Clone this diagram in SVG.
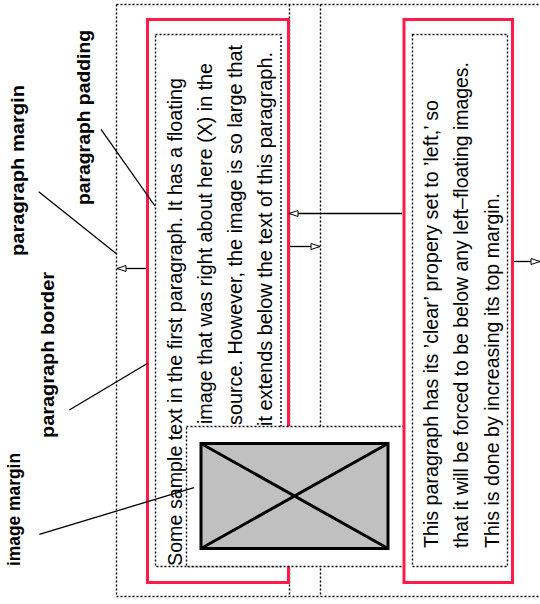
<svg xmlns="http://www.w3.org/2000/svg" width="540" height="604" viewBox="0 0 540 604">
<style>
.dot{fill:none;stroke:#000;stroke-width:1.4;stroke-dasharray:2 2}
.red{fill:none;stroke:#ff1a48;stroke-width:3}
.lbl{font-family:"Liberation Sans",Arial,sans-serif;font-weight:bold;font-size:19px;fill:#000}
.txt{font-family:"Liberation Sans",Arial,sans-serif;font-size:21px;fill:#000}
.ln{stroke:#000;stroke-width:1.3;fill:none}
</style>
<defs>
<marker id="ah" markerUnits="userSpaceOnUse" markerWidth="12" markerHeight="8" refX="10" refY="4" orient="auto">
<path d="M1,1 L10,4 L1,7 Z" fill="#fff" stroke="#000" stroke-width="1"/>
</marker>
</defs>
<rect width="540" height="604" fill="#fff"/>
<g id="margins">
<path class="dot" d="M116.5,4.5 H540 M116.5,596.5 H540 M116.5,4.5 V596.5 M289.5,4.5 V596.5 M320.5,4.5 V596.5"/>
</g>
<g id="paragraph1">
<rect class="red" x="147.5" y="19.5" width="141" height="563"/>
<rect class="dot" x="155.5" y="34.5" width="125.5" height="532"/>
<text class="txt" transform="translate(182,566) rotate(-90)" textLength="488" lengthAdjust="spacingAndGlyphs">Some sample text in the first paragraph. It has a floating</text>
<text class="txt" transform="translate(212,424) rotate(-90)" textLength="361" lengthAdjust="spacingAndGlyphs">image that was right about here (X) in the</text>
<text class="txt" transform="translate(242,425) rotate(-90)" textLength="380" lengthAdjust="spacingAndGlyphs">source. However, the image is so large that</text>
<text class="txt" transform="translate(272,426) rotate(-90)" textLength="374" lengthAdjust="spacingAndGlyphs">it extends below the text of this paragraph.</text>
</g>
<g id="image">
<rect x="186.5" y="426.5" width="217.5" height="140" fill="#fff" stroke="#000" stroke-width="1.4" stroke-dasharray="2 2"/>
<rect x="201" y="443.5" width="187" height="105" fill="#c0c0c0" stroke="#000" stroke-width="3"/>
<path d="M201,443.5 L388,548.5 M201,548.5 L388,443.5" stroke="#000" stroke-width="3" fill="none"/>
</g>
<g id="paragraph2">
<rect class="red" x="404" y="19.5" width="108.5" height="563"/>
<rect class="dot" x="412.5" y="34.5" width="95" height="532"/>
<text class="txt" transform="translate(438,548) rotate(-90)" textLength="448" lengthAdjust="spacingAndGlyphs">This paragraph has its ’clear’ propery set to ’left,’ so</text>
<text class="txt" transform="translate(468,548) rotate(-90)" textLength="486" lengthAdjust="spacingAndGlyphs">that it will be forced to be below any left–floating images.</text>
<text class="txt" transform="translate(499,548) rotate(-90)" textLength="355" lengthAdjust="spacingAndGlyphs">This is done by increasing its top margin.</text>
</g>
<g id="labels">
<text class="lbl" transform="translate(24,256) rotate(-90)" textLength="171" lengthAdjust="spacingAndGlyphs">paragraph margin</text>
<text class="lbl" transform="translate(90,205) rotate(-90)" textLength="175" lengthAdjust="spacingAndGlyphs">paragraph padding</text>
<text class="lbl" transform="translate(54,438) rotate(-90)" textLength="166" lengthAdjust="spacingAndGlyphs">paragraph border</text>
<text class="lbl" transform="translate(20,566) rotate(-90)" textLength="113" lengthAdjust="spacingAndGlyphs">image margin</text>
</g>
<g id="connectors">
<line class="ln" x1="38.7" y1="191.7" x2="116.7" y2="254"/>
<line class="ln" x1="101" y1="129.3" x2="155" y2="206"/>
<line class="ln" x1="69.3" y1="410" x2="147.7" y2="363.3"/>
<line class="ln" x1="39.3" y1="534.3" x2="194" y2="487.7"/>
<line class="ln" x1="146" y1="268.5" x2="117" y2="268.5" marker-end="url(#ah)"/>
<line class="ln" x1="402" y1="213.5" x2="289" y2="213.5" marker-end="url(#ah)"/>
<line class="ln" x1="290" y1="246.5" x2="320" y2="246.5" marker-end="url(#ah)"/>
<line class="ln" x1="514" y1="261.5" x2="540" y2="261.5" marker-end="url(#ah)"/>
</g>
</svg>
